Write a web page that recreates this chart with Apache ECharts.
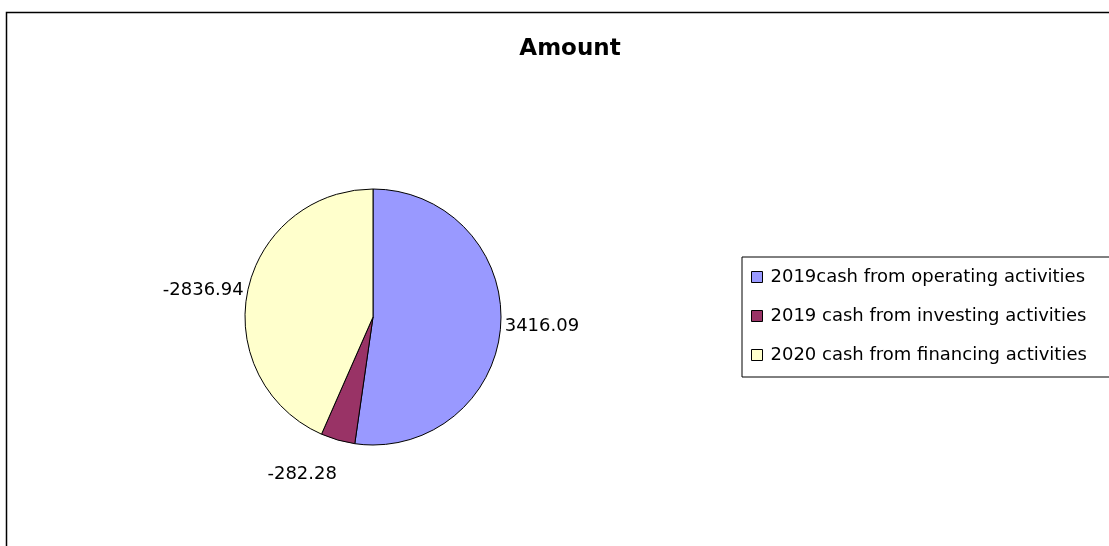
<!DOCTYPE html>
<html>
<head>
<meta charset="utf-8">
<script src="https://cdn.jsdelivr.net/npm/echarts@6/dist/echarts.min.js"></script>
<style>
html,body{margin:0;padding:0;background:#fff;}
#main{width:1109px;height:546px;}
</style>
</head>
<body>
<div id="main"></div>
<script>
var titleText = 'Amount';
var categories = ['2019cash from operating activities', '2019 cash from investing activities', '2020 cash from financing activities'];
var values = [3416.09, -282.28, -2836.94];
var colors = ['#9999FF', '#993366', '#FFFFCC'];

var FONT = 'DejaVu Sans';
var chart = echarts.init(document.getElementById('main'), null, {renderer: 'canvas'});

// per-slice label offsets (style only)
var labelLines = [
  { show: false, length: 0, length2: 0 },
  { show: false, length: 36, length2: -13 },
  { show: false, length: 0, length2: 0 }
];

var pieData = categories.map(function (c, i) {
  return {
    name: c, value: Math.abs(values[i]), raw: values[i],
    itemStyle: { color: colors[i] },
    labelLine: labelLines[i]
  };
});

chart.setOption({
  backgroundColor: '#ffffff',
  animation: false,
  title: {
    text: titleText,
    left: 565, top: 33, textAlign: 'center',
    textStyle: { fontFamily: FONT, fontWeight: 'bold', fontSize: 23, color: '#000' }
  },
  graphic: [{
    type: 'rect', left: 4, top: 10, silent: true,
    shape: { width: 1200, height: 600 },
    style: { fill: 'none', stroke: '#000', lineWidth: 1.5 }
  }],
  legend: {
    orient: 'vertical',
    left: 742, top: 257,
    padding: [10, 40, 12, 9],
    itemGap: 19,
    itemWidth: 11, itemHeight: 11,
    icon: 'rect',
    borderColor: '#000', borderWidth: 1,
    backgroundColor: '#fff',
    itemStyle: { borderColor: '#000', borderWidth: 1 },
    textStyle: { fontFamily: FONT, fontSize: 18, color: '#000', lineHeight: 20, padding: [0, 0, 0, 3] },
    data: categories
  },
  series: [{
    type: 'pie',
    center: [373, 317],
    radius: 128,
    startAngle: 90,
    clockwise: true,
    avoidLabelOverlap: false,
    itemStyle: { borderColor: '#000', borderWidth: 1 },
    label: {
      show: true, position: 'outside',
      distanceToLabelLine: 4,
      fontFamily: FONT, fontSize: 18, color: '#000',
      formatter: function (p) { return p.data.raw.toFixed(2); }
    },
    labelLine: { show: false, length: 0, length2: 0 },
    emphasis: { disabled: true },
    data: pieData
  }]
});
</script>
</body>
</html>
